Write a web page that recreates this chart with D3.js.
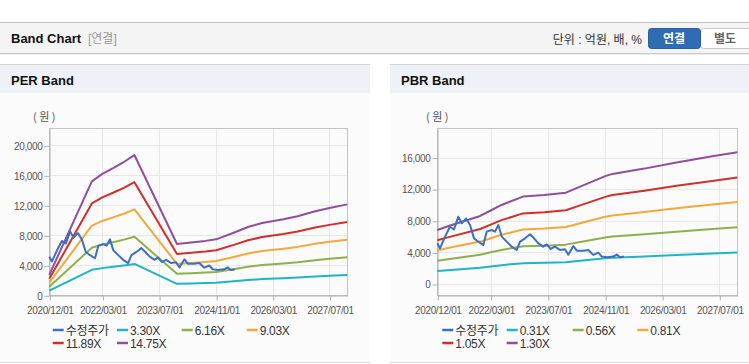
<!DOCTYPE html>
<html>
<head>
<meta charset="utf-8">
<script src="https://cdn.jsdelivr.net/npm/d3@7"></script>
<style>
body { margin: 0; background: #fff; }
svg { display: block; font-family: "Liberation Sans", Arial, "Noto Sans CJK KR", sans-serif; }
</style>
</head>
<body>
<svg id="chart"></svg>
<script>
// tick labels shared by both charts
var tickLabels = ['2020/12/01', '2022/03/01', '2023/07/01', '2024/11/01', '2026/03/01', '2027/07/01'];
var xDomain = ['2020-12-01', '2027-12-01'];

// adjusted close (수정주가)
var priceDates = ['2020-12-01', '2020-12-24', '2021-02-05', '2021-03-19', '2021-04-22', '2021-05-29', '2021-06-27',
    '2021-08-03', '2021-09-06', '2021-10-10', '2021-11-15', '2021-12-28', '2022-01-26', '2022-03-09', '2022-04-07',
    '2022-05-05', '2022-06-03', '2022-07-15', '2022-08-27', '2022-10-08', '2022-11-06', '2022-12-18', '2023-01-30',
    '2023-03-05', '2023-04-11', '2023-05-23', '2023-06-21', '2023-07-25', '2023-08-31', '2023-10-12', '2023-11-24',
    '2023-12-22', '2024-02-03', '2024-03-03', '2024-04-28', '2024-06-10', '2024-07-22', '2024-09-03', '2024-10-02',
    '2024-11-14', '2025-01-09', '2025-02-07', '2025-03-07', '2025-04-10'];
var priceValues = [5150, 4520, 6000, 7250, 6900, 8520, 7680,
    8300, 7460, 5770, 5350, 4940, 6620, 6830, 6620,
    7460, 6000, 5360, 4730, 4300, 5360, 5780, 6290,
    5780, 5150, 4730, 5020, 4430, 4730, 4300, 4400,
    3700, 4800, 4220, 4220, 4300, 3680, 3970, 3470,
    3380, 3470, 3720, 3380, 3480];

// PER band
var perDates = ['2020-12-01', '2021-12-01', '2022-03-01', '2022-06-01', '2022-09-01', '2022-12-01', '2023-12-01',
    '2024-04-01', '2024-08-01', '2024-11-01', '2025-04-01', '2025-08-01', '2025-12-01', '2026-06-01', '2026-10-01',
    '2027-03-01', '2027-07-01', '2027-12-01'];
var per330 = [611, 3399, 3623, 3795, 3977, 4184, 1531, 1577, 1624, 1670, 1868, 2036, 2158, 2270, 2360, 2508, 2607, 2713];
var per616 = [1140, 6345, 6764, 7084, 7423, 7811, 2858, 2944, 3031, 3117, 3487, 3801, 4029, 4238, 4404, 4682, 4866, 5064];
var per903 = [1671, 9301, 9915, 10385, 10881, 11450, 4190, 4316, 4443, 4569, 5111, 5572, 5906, 6213, 6456, 6863, 7134, 7423];
var per1189 = [2200, 12247, 13055, 13674, 14327, 15077, 5517, 5683, 5850, 6016, 6730, 7336, 7776, 8180, 8501, 9036, 9393, 9774];
var per1475 = [2729, 15193, 16196, 16963, 17774, 18703, 6844, 7051, 7257, 7464, 8349, 9101, 9647, 10148, 10546, 11210, 11653, 12125];
var perTicks = [0, 4000, 8000, 12000, 16000, 20000];

// PBR band
var pbrDates = ['2020-12-01', '2021-03-01', '2021-12-01', '2022-03-01', '2022-06-01', '2022-12-01', '2023-06-01',
    '2023-12-01', '2024-04-01', '2024-11-01', '2025-01-01', '2025-10-01', '2026-07-01', '2027-05-01', '2027-12-01'];
var pbr031 = [1631, 1741, 2053, 2218, 2385, 2637, 2683, 2757, 2938, 3255, 3322, 3482, 3668, 3851, 3975];
var pbr056 = [2947, 3144, 3709, 4006, 4308, 4764, 4846, 4980, 5307, 5880, 6000, 6289, 6625, 6957, 7181];
var pbr081 = [4262, 4548, 5365, 5795, 6231, 6891, 7010, 7203, 7676, 8505, 8679, 9097, 9583, 10063, 10387];
var pbr105 = [5525, 5896, 6954, 7512, 8077, 8933, 9087, 9337, 9951, 11025, 11251, 11793, 12423, 13044, 13464];
var pbr130 = [6840, 7300, 8610, 9300, 10000, 11060, 11250, 11560, 12320, 13650, 13930, 14600, 15380, 16150, 16670];
var pbrTicks = [0, 4000, 8000, 12000, 16000];

var colors = ['#3c6fc2', '#1fb4c6', '#8db04c', '#f4a83a', '#d12f2a', '#8e4f9e'];

var parse = d3.timeParse('%Y-%m-%d');
var parseTick = d3.timeParse('%Y/%m/%d');

var svg = d3.select('#chart').attr('width', 749).attr('height', 364);

// top title bar
svg.append('rect').attr('x', 0).attr('y', 23).attr('width', 749).attr('height', 30).attr('fill', '#f4f4f4');
svg.append('line').attr('x1', 0).attr('x2', 749).attr('y1', 22.5).attr('y2', 22.5).attr('stroke', '#bdbdbd');
svg.append('line').attr('x1', 0).attr('x2', 749).attr('y1', 53.5).attr('y2', 53.5).attr('stroke', '#c8c8c8');
svg.append('line').attr('x1', 0).attr('x2', 749).attr('y1', 54.5).attr('y2', 54.5).attr('stroke', '#ececec');
svg.append('text').attr('x', 11).attr('y', 43).attr('font-size', 13).attr('font-weight', 'bold').attr('fill', '#111').text('Band Chart');
svg.append('text').attr('x', 88).attr('y', 43).attr('font-size', 12).attr('fill', '#999').text('[연결]');
svg.append('text').attr('x', 642).attr('y', 44).attr('font-size', 12).attr('fill', '#333')
    .attr('text-anchor', 'end').text('단위 : 억원, 배, %');
svg.append('rect').attr('x', 700.5).attr('y', 28.5).attr('width', 60).attr('height', 20).attr('rx', 3)
    .attr('fill', '#fff').attr('stroke', '#c8c8c8');
svg.append('rect').attr('x', 648.5).attr('y', 28.5).attr('width', 52).attr('height', 20).attr('rx', 3)
    .attr('fill', '#2f6cb3').attr('stroke', '#2a5e9d');
svg.append('text').attr('x', 674).attr('y', 43).attr('font-size', 12).attr('font-weight', 'bold')
    .attr('fill', '#fff').attr('text-anchor', 'middle').text('연결');
svg.append('text').attr('x', 725).attr('y', 43).attr('font-size', 12).attr('font-weight', 'bold')
    .attr('fill', '#666').attr('text-anchor', 'middle').text('별도');

function toSeries(dates, values) {
    return dates.map(function (d, i) { return { date: parse(d), value: values[i] }; });
}

function drawBand(cfg) {
    // panel
    var p = svg.append('g');
    p.append('rect').attr('x', cfg.panelX).attr('y', 64).attr('width', cfg.panelW).attr('height', 299).attr('fill', '#fbfbfb');
    p.append('rect').attr('x', cfg.panelX).attr('y', 64).attr('width', cfg.panelW).attr('height', 29).attr('fill', '#eef1f6');
    p.append('line').attr('x1', cfg.panelX).attr('x2', cfg.panelX + cfg.panelW).attr('y1', 64.5).attr('y2', 64.5).attr('stroke', '#d6d6d6');
    p.append('line').attr('x1', cfg.panelX).attr('x2', cfg.panelX + cfg.panelW).attr('y1', 362.5).attr('y2', 362.5).attr('stroke', '#dcdcdc');
    p.append('text').attr('x', cfg.panelX + 11).attr('y', 85).attr('font-size', 13).attr('font-weight', 'bold')
        .attr('fill', '#111').text(cfg.title);

    var x = d3.scaleTime().domain(xDomain.map(parse)).range([cfg.left, cfg.right]);
    var y = d3.scaleLinear().domain(cfg.yDomain).range([295.3, 128.3]);

    var g = svg.append('g');
    // grid
    g.selectAll('.vg').data(tickLabels.slice(1)).enter().append('line')
        .attr('x1', function (d) { return Math.round(x(parseTick(d))) + 0.5; })
        .attr('x2', function (d) { return Math.round(x(parseTick(d))) + 0.5; })
        .attr('y1', 128.3).attr('y2', 295.3).attr('stroke', '#e8e8e8');
    g.selectAll('.hg').data(cfg.yTicks).enter().append('line')
        .attr('x1', cfg.left).attr('x2', cfg.right)
        .attr('y1', function (d) { return Math.round(y(d)) + 0.5; })
        .attr('y2', function (d) { return Math.round(y(d)) + 0.5; })
        .attr('stroke', '#e8e8e8');
    g.append('rect').attr('x', Math.round(cfg.left) + 0.5).attr('y', 128.5)
        .attr('width', Math.round(cfg.right - cfg.left)).attr('height', 167)
        .attr('fill', 'none').attr('stroke', '#c4c4c4');

    // axes
    var xAxis = d3.axisBottom(x)
        .tickValues(tickLabels.map(function (t) { return parseTick(t); }))
        .tickFormat(d3.timeFormat('%Y/%m/%d'))
        .tickSize(5).tickSizeOuter(0).tickPadding(4);
    var ax = g.append('g').attr('transform', 'translate(0.5,295.5)').call(xAxis);
    var yAxis = d3.axisLeft(y).tickValues(cfg.yTicks).tickFormat(d3.format(',')).tickSize(5).tickSizeOuter(0).tickPadding(2);
    var ay = g.append('g').attr('transform', 'translate(' + (Math.round(cfg.left) + 0.5) + ',0.5)').call(yAxis);
    [ax, ay].forEach(function (a) {
        a.select('.domain').attr('stroke', '#b0b0b0');
        a.selectAll('.tick line').attr('stroke', '#b0b0b0');
        a.selectAll('.tick text').attr('fill', '#555').attr('font-size', 10)
            .attr('font-family', '"Liberation Sans", Arial, sans-serif').style('letter-spacing', '-0.35px');
    });
    ax.selectAll('.tick text').attr('dy', '0.95em');

    g.append('text').attr('x', cfg.unitX).attr('y', 121).attr('font-size', 11).attr('fill', '#555')
        .attr('font-family', '"Noto Sans CJK KR", sans-serif').attr('xml:space', 'preserve').text('( 원 )');

    // series
    var line = d3.line()
        .x(function (d) { return x(d.date); })
        .y(function (d) { return y(d.value); });
    cfg.series.slice().reverse().forEach(function (s, i) {
        var idx = cfg.series.length - i;
        g.append('path').datum(toSeries(cfg.bandDates, s))
            .attr('d', line).attr('fill', 'none')
            .attr('stroke', colors[idx]).attr('stroke-width', 2).attr('stroke-linejoin', 'round');
    });
    g.append('path').datum(toSeries(priceDates, priceValues))
        .attr('d', line).attr('fill', 'none')
        .attr('stroke', colors[0]).attr('stroke-width', 2).attr('stroke-linejoin', 'round');

    // legend
    var names = ['수정주가'].concat(cfg.names);
    var leg = g.selectAll('.leg').data(names).enter().append('g')
        .attr('transform', function (d, i) {
            return 'translate(' + cfg.legX[i % 4] + ',' + (i < 4 ? 330 : 343) + ')';
        });
    leg.append('line').attr('x1', 0).attr('x2', 11).attr('y1', 0).attr('y2', 0)
        .attr('stroke', function (d, i) { return colors[i]; }).attr('stroke-width', 2.5);
    leg.append('text').attr('x', 13).attr('y', 4.5).attr('font-size', 12).attr('fill', '#333')
        .style('letter-spacing', '-0.3px').text(function (d) { return d; });
}

drawBand({
    title: 'PER Band', panelX: 0, panelW: 370, left: 49.3, right: 347.3, unitX: 33,
    yDomain: [0, 22270], yTicks: perTicks, bandDates: perDates,
    series: [per330, per616, per903, per1189, per1475],
    names: ['3.30X', '6.16X', '9.03X', '11.89X', '14.75X'],
    legX: [52.7, 117, 181.7, 246.7]
});
drawBand({
    title: 'PBR Band', panelX: 390, panelW: 359, left: 437.3, right: 737.3, unitX: 426,
    yDomain: [-1430, 19700], yTicks: pbrTicks, bandDates: pbrDates,
    series: [pbr031, pbr056, pbr081, pbr105, pbr130],
    names: ['0.31X', '0.56X', '0.81X', '1.05X', '1.30X'],
    legX: [442.3, 506.7, 572.7, 637.3]
});
</script>
</body>
</html>
